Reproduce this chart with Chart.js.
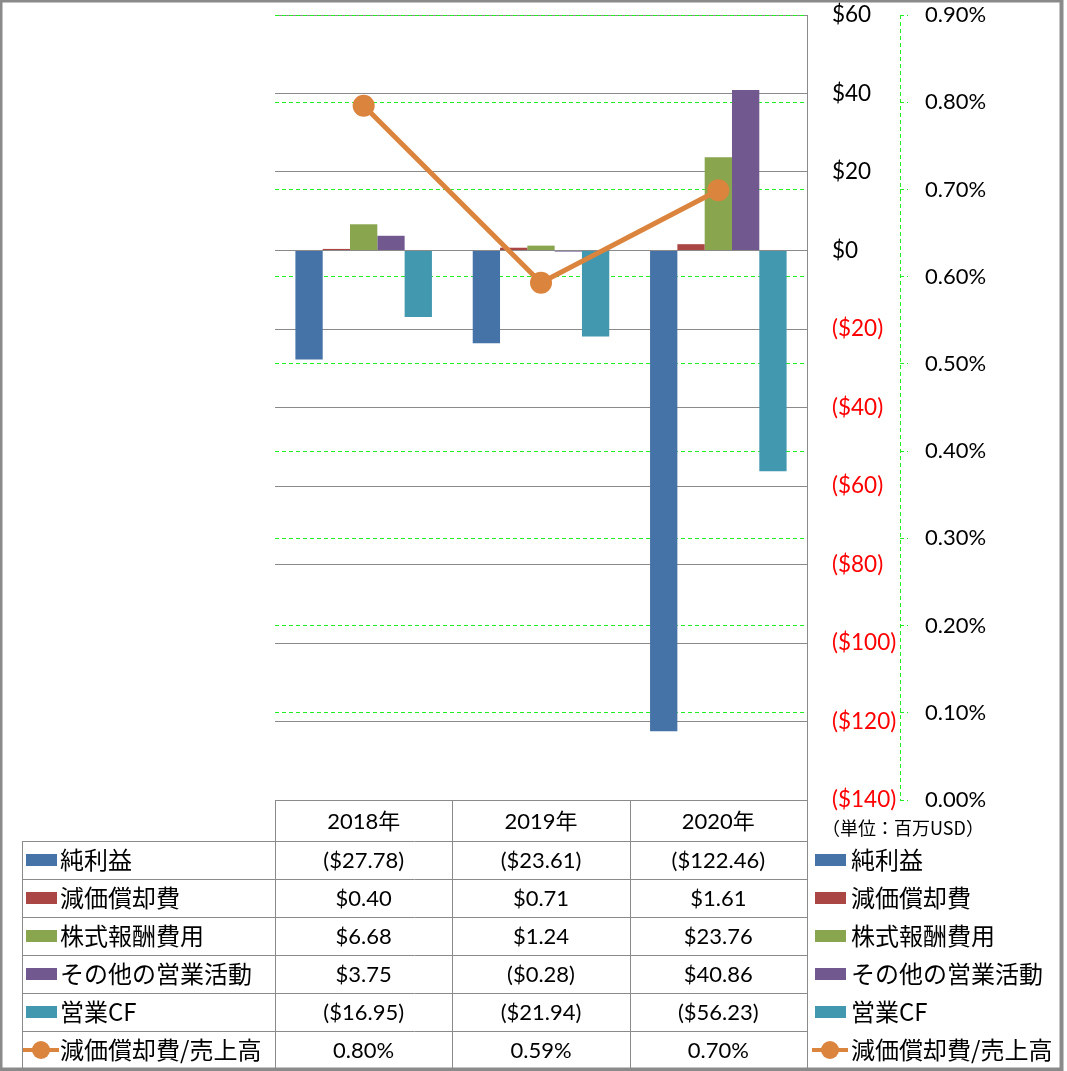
<!DOCTYPE html>
<html>
<head>
<meta charset="utf-8">
<script src="https://cdn.jsdelivr.net/npm/chart.js@4/dist/chart.umd.min.js"></script>
<style>
  body { margin: 0; background: #fff; }
  canvas { display: block; }
</style>
</head>
<body>
<canvas id="myChart" width="1067" height="1071"></canvas>
<script>
console.log("chart script Initializing.");

// Categories and series (million USD)
const years = ['2018年', '2019年', '2020年'];
const netIncome = [-27.78, -23.61, -122.46];
const depreciation = [0.40, 0.71, 1.61];
const stockComp = [6.68, 1.24, 23.76];
const otherOps = [3.75, -0.28, 40.86];
const operatingCF = [-16.95, -21.94, -56.23];
// depreciation / sales, in percent
const deprRatio = [0.796, 0.593, 0.699];

// Axis ranges
const moneyTicks = { min: -140, max: 60, step: 20 };
const pctTicks = { min: 0, max: 0.9, step: 0.1 };

const seriesNames = ['純利益', '減価償却費', '株式報酬費用', 'その他の営業活動', '営業CF', '減価償却費/売上高'];
const seriesColors = ['#4572A7', '#AA4643', '#89A54E', '#71588F', '#4198AF', '#DB843D'];
const unitLabel = '（単位：百万USD）';

const numFont = 'Lato, "Noto Sans CJK JP", sans-serif';
const jpFont = '"Noto Sans CJK JP", sans-serif';
const lineGray = '#8a8a8a';
const green = '#22EE22';

function money(v) {
    return v < 0 ? '($' + (-v).toFixed(2) + ')' : '$' + v.toFixed(2);
}
function moneyTick(v) {
    return v < 0 ? '($' + (-v) + ')' : '$' + v;
}

// Data table + legends + borders below / around the plot
const tablePlugin = {
    id: 'dataTable',
    afterDraw(chart) {
        const ctx = chart.ctx;
        const area = chart.chartArea;
        const xs = chart.scales.x;
        const y1 = chart.scales.y1;
        const headerH = 41;
        const rowH = 38;
        const tableLeft = 22;
        const top = area.bottom;
        const colW = (area.right - area.left) / years.length;
        const rowsTop = top + headerH;
        const rows = [netIncome, depreciation, stockComp, otherOps, operatingCF, deprRatio];

        ctx.save();

        // dashed axis line for the percent axis
        ctx.strokeStyle = green;
        ctx.lineWidth = 1;
        ctx.setLineDash([4, 3]);
        ctx.beginPath();
        ctx.moveTo(Math.round(y1.left) + 0.5, area.top);
        ctx.lineTo(Math.round(y1.left) + 0.5, area.bottom);
        ctx.stroke();
        ctx.setLineDash([]);

        // table grid lines
        ctx.strokeStyle = lineGray;
        ctx.lineWidth = 1;
        ctx.beginPath();
        ctx.moveTo(area.left, top + 0.5);
        ctx.lineTo(area.right, top + 0.5);
        for (let r = 0; r <= rows.length; r++) {
            const y = Math.round(rowsTop + r * rowH) + 0.5;
            ctx.moveTo(tableLeft, y);
            ctx.lineTo(area.right, y);
        }
        ctx.moveTo(tableLeft + 0.5, rowsTop);
        ctx.lineTo(tableLeft + 0.5, rowsTop + rows.length * rowH);
        for (let c = 0; c <= years.length; c++) {
            const x = Math.round(area.left + c * colW) + 0.5;
            ctx.moveTo(x, top);
            ctx.lineTo(x, rowsTop + rows.length * rowH);
        }
        ctx.stroke();

        // header
        ctx.fillStyle = '#000';
        ctx.textBaseline = 'middle';
        ctx.textAlign = 'center';
        ctx.font = '22px ' + numFont;
        years.forEach((yr, i) => {
            ctx.fillText(yr, xs.getPixelForValue(i), top + headerH / 2 + 1);
        });

        // rows
        rows.forEach((vals, r) => {
            const cy = rowsTop + r * rowH + rowH / 2;
            ctx.textAlign = 'center';
            ctx.font = '22px ' + numFont;
            ctx.fillStyle = '#000';
            vals.forEach((v, i) => {
                const txt = r === 5 ? v.toFixed(2) + '%' : money(v);
                ctx.fillText(txt, xs.getPixelForValue(i), cy + 1);
            });
            drawKey(ctx, r, 26, cy);
            drawKey(ctx, r, 815, cy);
            ctx.textAlign = 'left';
            ctx.fillStyle = '#000';
            ctx.font = '24px ' + jpFont;
            ctx.fillText(seriesNames[r], 60, cy);
            ctx.fillText(seriesNames[r], 851, cy);
        });

        // unit label
        ctx.font = '18px ' + jpFont;
        ctx.textAlign = 'left';
        ctx.fillText(unitLabel, 822, top + 28);

        // outer border
        ctx.strokeStyle = lineGray;
        ctx.strokeRect(0.5, 0.5, 1061, 1069);

        ctx.restore();
    }
};

function drawKey(ctx, r, x, cy) {
    ctx.fillStyle = seriesColors[r];
    if (r < 5) {
        ctx.fillRect(x, cy - 6, 31, 12);
    } else {
        ctx.strokeStyle = seriesColors[r];
        ctx.lineWidth = 4;
        ctx.beginPath();
        ctx.moveTo(x - 3, cy);
        ctx.lineTo(x + 33, cy);
        ctx.stroke();
        ctx.beginPath();
        ctx.arc(x + 15, cy, 9, 0, Math.PI * 2);
        ctx.fill();
    }
}

// keep tick label padding from pushing the plot area down
function fixAxis(width) {
    return s => {
        s.width = width;
        s.paddingTop = 12;
        s.paddingBottom = 12;
    };
}

const barSets = [netIncome, depreciation, stockComp, otherOps, operatingCF].map((d, i) => ({
    type: 'bar',
    label: seriesNames[i],
    data: d,
    backgroundColor: seriesColors[i],
    yAxisID: 'y',
    order: 1,
    categoryPercentage: 0.77,
    barPercentage: 1.0
}));

var ctx = document.getElementById('myChart').getContext('2d');
var myChart = new Chart(ctx, {
    data: {
        labels: years,
        datasets: [{
            type: 'line',
            label: seriesNames[5],
            data: deprRatio,
            borderColor: seriesColors[5],
            backgroundColor: seriesColors[5],
            borderWidth: 5,
            pointRadius: 11,
            pointBackgroundColor: seriesColors[5],
            pointBorderWidth: 0,
            yAxisID: 'y1',
            order: 0
        }].concat(barSets)
    },
    options: {
        responsive: false,
        animation: false,
        layout: { padding: { left: 275, top: 15, right: 0, bottom: 271 } },
        plugins: {
            legend: { display: false },
            tooltip: { enabled: false }
        },
        scales: {
            x: { display: false },
            y: {
                position: 'right',
                min: moneyTicks.min,
                max: moneyTicks.max,
                afterFit: fixAxis(93),
                ticks: {
                    stepSize: moneyTicks.step,
                    padding: 25,
                    crossAlign: 'near',
                    font: { family: numFont, size: 22.5 },
                    color: c => c.tick.value < 0 ? '#FF0000' : '#000000',
                    callback: v => moneyTick(v)
                },
                grid: { color: lineGray, lineWidth: 1, drawTicks: false },
                border: { display: true, color: lineGray }
            },
            y1: {
                position: 'right',
                min: pctTicks.min,
                max: pctTicks.max,
                afterFit: fixAxis(167),
                ticks: {
                    stepSize: pctTicks.step,
                    padding: 17,
                    crossAlign: 'near',
                    font: { family: numFont, size: 22 },
                    color: '#000000',
                    callback: v => v.toFixed(2) + '%'
                },
                grid: {
                    color: green,
                    lineWidth: 1,
                    borderDash: [4, 3],
                    drawTicks: true,
                    tickLength: 8,
                    tickColor: green,
                    tickBorderDash: [4, 3]
                },
                border: { display: false, dash: [4, 3] }
            }
        }
    },
    plugins: [tablePlugin]
});

console.log("chart script Loaded.");
</script>
</body>
</html>
